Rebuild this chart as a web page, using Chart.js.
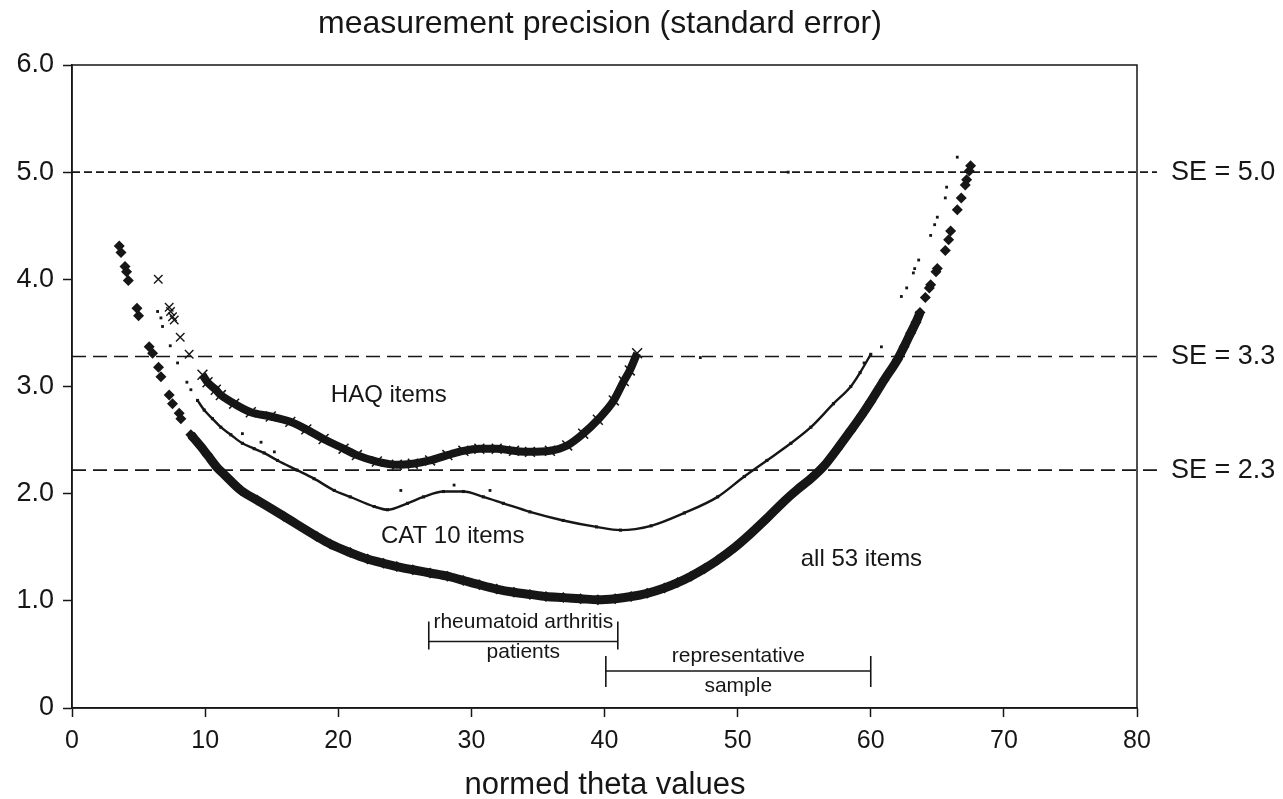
<!DOCTYPE html>
<html>
<head>
<meta charset="utf-8">
<script src="https://cdn.jsdelivr.net/npm/chart.js@4/dist/chart.umd.min.js"></script>
<style>
  html, body { margin: 0; padding: 0; background: #fff; }
  #wrap { width: 1283px; height: 799px; }
</style>
</head>
<body>
<div id="wrap"><canvas id="seChart" width="1283" height="799"></canvas></div>
<script>
// === Data: [theta, SE] ===
const all53Ends = [
  [3.55, 4.31], [3.68, 4.25], [3.98, 4.12], [4.1, 4.07], [4.23, 3.99], [4.88, 3.73], [5.0, 3.66],
  [5.8, 3.37], [6.05, 3.31], [6.5, 3.18], [6.68, 3.09], [7.3, 2.92], [7.55, 2.84], [8.05, 2.75], [8.18, 2.70],
  [64.1, 3.83], [64.4, 3.92], [64.5, 3.95], [64.9, 4.07], [65.0, 4.10], [65.6, 4.27], [65.85, 4.37],
  [66.0, 4.45], [66.5, 4.65], [66.8, 4.76], [67.1, 4.88], [67.2, 4.93], [67.4, 5.01], [67.5, 5.06]
];
const all53Band = [
  [8.93, 2.55], [9.68, 2.44], [10.18, 2.36], [10.93, 2.24], [11.43, 2.18], [12.7, 2.03], [13.9, 1.94],
  [15.9, 1.79], [18.4, 1.60], [19.4, 1.53], [20.9, 1.45], [22.2, 1.39], [23.4, 1.35], [24.4, 1.32],
  [25.6, 1.29], [26.9, 1.26], [28.2, 1.23], [29.4, 1.19], [30.6, 1.15], [31.9, 1.11], [33.2, 1.08],
  [34.4, 1.06], [35.6, 1.04], [36.9, 1.03], [38.2, 1.02], [39.5, 1.01], [40.8, 1.02], [42.0, 1.04],
  [43.2, 1.07], [44.5, 1.12], [45.5, 1.17], [46.5, 1.23], [47.5, 1.30], [48.5, 1.38], [49.8, 1.50],
  [51.0, 1.63], [52.2, 1.77], [53.5, 1.93], [54.5, 2.04], [55.5, 2.14], [56.5, 2.26], [57.5, 2.42],
  [58.5, 2.59], [59.3, 2.73], [60.0, 2.86], [61.0, 3.06], [62.0, 3.25], [62.5, 3.37], [63.0, 3.50],
  [63.4, 3.60], [63.7, 3.69]
];
const catSparse = [
  [6.43, 3.70], [6.68, 3.64], [6.8, 3.56], [7.38, 3.38], [7.93, 3.22], [8.63, 3.04], [8.93, 2.97],
  [12.8, 2.56], [14.2, 2.48], [15.2, 2.39], [24.7, 2.03], [28.7, 2.08], [31.4, 2.03],
  [47.2, 3.27], [53.8, 5.0], [59.5, 3.22], [60.8, 3.37],
  [62.3, 3.84], [62.7, 3.92], [63.2, 4.06], [63.3, 4.10], [63.6, 4.18], [64.5, 4.41], [64.8, 4.51],
  [65.0, 4.58], [65.6, 4.76], [65.7, 4.86], [66.5, 5.14]
];
const catBand = [
  [9.43, 2.87], [9.93, 2.78], [10.55, 2.70], [11.18, 2.62], [11.93, 2.55], [12.8, 2.47], [13.68, 2.42],
  [14.43, 2.38], [15.44, 2.31], [16.9, 2.22], [18.18, 2.14], [19.7, 2.03], [20.9, 1.97], [22.7, 1.88],
  [23.7, 1.85], [25.2, 1.91], [26.4, 1.97], [27.9, 2.02], [29.4, 2.02], [30.9, 1.97], [32.4, 1.91],
  [34.4, 1.83], [36.9, 1.75], [39.4, 1.69], [41.2, 1.66], [43.5, 1.70], [46.0, 1.82], [48.5, 1.97],
  [50.5, 2.16], [52.2, 2.31], [54.0, 2.47], [55.5, 2.62], [57.2, 2.84], [58.5, 3.00], [59.2, 3.13], [60.0, 3.30]
];
const haqSparse = [
  [6.48, 4.0], [7.3, 3.74], [7.4, 3.70], [7.55, 3.65], [7.68, 3.62], [8.13, 3.46], [8.8, 3.30]
];
const haqBand = [
  [9.8, 3.11], [10.18, 3.04], [10.8, 2.97], [11.18, 2.92], [12.18, 2.84], [13.43, 2.76], [14.93, 2.72],
  [16.4, 2.67], [17.6, 2.60], [18.9, 2.51], [20.4, 2.42], [21.4, 2.36], [22.9, 2.30], [24.4, 2.27],
  [25.6, 2.28], [26.9, 2.31], [28.2, 2.36], [29.4, 2.40], [30.6, 2.42], [31.9, 2.42], [33.2, 2.40],
  [34.4, 2.39], [35.9, 2.40], [37.2, 2.45], [38.4, 2.56], [39.5, 2.69], [40.7, 2.87], [41.45, 3.05],
  [41.9, 3.15], [42.45, 3.31]
];

// reference lines (drawn heights) and their labels
const seLevels = [5.0, 3.28, 2.22];
const seLabels = ['SE = 5.0', 'SE = 3.3', 'SE = 2.3'];
const seLineEnd = 81.5;

// theta ranges of the two samples
const raRange = [26.8, 41.0];
const repRange = [40.1, 60.0];

const xTicks = [0, 10, 20, 30, 40, 50, 60, 70, 80];
const yTicks = [0, 1, 2, 3, 4, 5, 6];

const ink = '#161616';
const FONT = '"Liberation Sans", Arial, Helvetica, sans-serif';
const pts = arr => arr.map(p => ({ x: p[0], y: p[1] }));

// === Extra drawing: frame, title, labels, sample brackets ===
const decorPlugin = {
  id: 'decor',
  afterDraw(chart) {
    const { ctx, chartArea: a, scales: { x, y } } = chart;
    ctx.save();
    ctx.strokeStyle = ink;
    ctx.lineWidth = 1.5;
    ctx.strokeRect(a.left, a.top, a.right - a.left, a.bottom - a.top);

    ctx.fillStyle = ink;
    ctx.textBaseline = 'middle';
    ctx.textAlign = 'center';
    ctx.font = '32px ' + FONT;
    ctx.fillText('measurement precision (standard error)', 600, 24);
    ctx.font = '31px ' + FONT;
    ctx.fillText('normed theta values', 605, 785);

    ctx.font = '24px ' + FONT;
    ctx.fillText('HAQ items', x.getPixelForValue(23.8), y.getPixelForValue(2.92));
    ctx.fillText('CAT 10 items', x.getPixelForValue(28.6), y.getPixelForValue(1.60));
    ctx.fillText('all 53 items', x.getPixelForValue(59.3), y.getPixelForValue(1.39));

    // SE labels right of the dashed lines
    ctx.textAlign = 'left';
    ctx.font = '27px ' + FONT;
    seLevels.forEach((lv, i) => {
      ctx.fillText(seLabels[i], x.getPixelForValue(seLineEnd) + 14, y.getPixelForValue(lv));
    });

    // brackets
    const bracket = (range, lvl, top, bottom) => {
      const x1 = x.getPixelForValue(range[0]);
      const x2 = x.getPixelForValue(range[1]);
      const yy = y.getPixelForValue(lvl);
      ctx.lineWidth = 1.6;
      ctx.beginPath();
      ctx.moveTo(x1, yy); ctx.lineTo(x2, yy);
      ctx.moveTo(x1, yy - top); ctx.lineTo(x1, yy + bottom);
      ctx.moveTo(x2, yy - top); ctx.lineTo(x2, yy + bottom);
      ctx.stroke();
      return (x1 + x2) / 2;
    };
    ctx.font = '21px ' + FONT;
    ctx.textAlign = 'center';
    let cx = bracket(raRange, 0.62, 20, 8);
    let yy = y.getPixelForValue(0.62);
    ctx.fillText('rheumatoid arthritis', cx, yy - 19);
    ctx.fillText('patients', cx, yy + 11);
    cx = bracket(repRange, 0.345, 15, 16);
    yy = y.getPixelForValue(0.345);
    ctx.fillText('representative', cx, yy - 15);
    ctx.fillText('sample', cx, yy + 15);
    ctx.restore();
  }
};

const seDatasets = seLevels.map((lv, i) => ({
  label: seLabels[i],
  data: [{ x: 0, y: lv }, { x: seLineEnd, y: lv }],
  showLine: true,
  pointRadius: 0,
  borderColor: ink,
  borderWidth: 1.6,
  borderDash: i === 0 ? [8, 4] : [14, 7],
  clip: false
}));

new Chart(document.getElementById('seChart'), {
  type: 'scatter',
  data: {
    datasets: [
      {
        label: 'HAQ items',
        data: pts(haqSparse),
        pointStyle: 'crossRot', pointRadius: 6, borderWidth: 1.4,
        borderColor: ink, backgroundColor: ink
      },
      {
        label: 'HAQ items band',
        data: pts(haqBand),
        showLine: true, borderWidth: 8, cubicInterpolationMode: 'monotone',
        pointStyle: 'crossRot', pointRadius: 7, pointBorderWidth: 1.5,
        borderColor: ink, backgroundColor: ink
      },
      {
        label: 'CAT 10 items',
        data: pts(catSparse),
        pointStyle: 'rect', pointRadius: 2, borderWidth: 0,
        borderColor: ink, backgroundColor: ink
      },
      {
        label: 'CAT 10 items band',
        data: pts(catBand),
        showLine: true, borderWidth: 2.4, cubicInterpolationMode: 'monotone',
        pointStyle: 'rect', pointRadius: 2.2, pointBorderWidth: 0,
        borderColor: ink, backgroundColor: ink
      },
      {
        label: 'all 53 items',
        data: pts(all53Ends),
        pointStyle: 'rectRot', pointRadius: 5.5, borderWidth: 0,
        borderColor: ink, backgroundColor: ink
      },
      {
        label: 'all 53 items band',
        data: pts(all53Band),
        showLine: true, borderWidth: 9, cubicInterpolationMode: 'monotone',
        pointStyle: 'rectRot', pointRadius: 5.5, pointBorderWidth: 0,
        borderColor: ink, backgroundColor: ink
      },
      ...seDatasets
    ]
  },
  options: {
    responsive: false,
    animation: false,
    layout: { padding: { top: 65, right: 146, left: 0, bottom: 0 } },
    plugins: { legend: { display: false }, tooltip: { enabled: false }, title: { display: false } },
    scales: {
      x: {
        type: 'linear', min: 0, max: 80,
        afterFit: s => { s.height = 91; },
        afterBuildTicks: s => { s.ticks = xTicks.map(v => ({ value: v })); },
        grid: { drawOnChartArea: false, color: ink, tickLength: 9, tickWidth: 1.5 },
        border: { color: ink, width: 1.5 },
        ticks: { color: ink, font: { family: FONT, size: 25 }, padding: 9, callback: v => String(v) }
      },
      y: {
        type: 'linear', min: 0, max: 6,
        afterFit: s => { s.width = 72; },
        afterBuildTicks: s => { s.ticks = yTicks.map(v => ({ value: v })); },
        grid: { drawOnChartArea: false, color: ink, tickLength: 9, tickWidth: 1.5 },
        border: { color: ink, width: 1.5 },
        ticks: { color: ink, font: { family: FONT, size: 27 }, padding: 9, callback: v => v === 0 ? '0' : v.toFixed(1) }
      }
    }
  },
  plugins: [decorPlugin]
});
</script>
</body>
</html>
